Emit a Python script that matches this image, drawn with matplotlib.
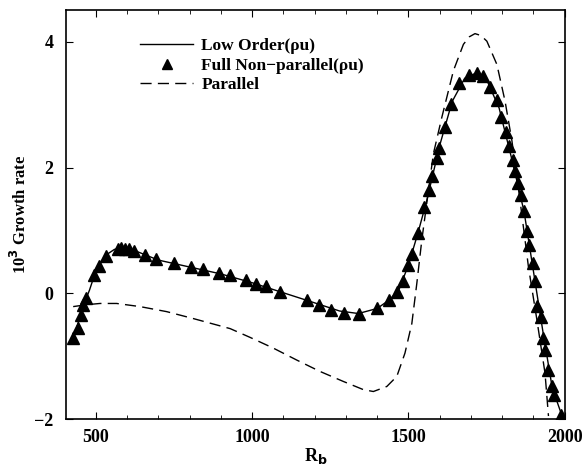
import matplotlib
matplotlib.use("Agg")
import numpy as np
from matplotlib import pyplot as plt
from matplotlib.ticker import MultipleLocator

# full non-parallel (rho u), triangles
full_x = [429, 442, 452, 460, 470, 495, 511, 532, 570, 582, 594, 606, 621,
          657, 692, 752, 805, 843, 894, 930, 980, 1013, 1045, 1089, 1176,
          1215, 1253, 1295, 1342, 1399, 1437, 1464, 1482, 1500, 1512, 1531,
          1550, 1567, 1574, 1590, 1598, 1617, 1637, 1663, 1695, 1720, 1740,
          1762, 1782, 1797, 1811, 1821, 1833, 1842, 1851, 1861, 1871, 1880,
          1887, 1897, 1904, 1910, 1923, 1932, 1936, 1948, 1959, 1966, 1987]
full_y = [-0.71, -0.55, -0.34, -0.19, -0.08, 0.29, 0.43, 0.59, 0.71, 0.72,
          0.71, 0.70, 0.68, 0.61, 0.54, 0.48, 0.42, 0.39, 0.33, 0.29, 0.21,
          0.15, 0.11, 0.03, -0.10, -0.19, -0.26, -0.31, -0.32, -0.24, -0.11,
          0.03, 0.19, 0.45, 0.63, 0.96, 1.38, 1.64, 1.87, 2.16, 2.31, 2.65,
          3.01, 3.34, 3.47, 3.51, 3.46, 3.28, 3.08, 2.81, 2.56, 2.34, 2.12,
          1.95, 1.75, 1.57, 1.31, 1.00, 0.77, 0.48, 0.19, -0.20, -0.38,
          -0.71, -0.90, -1.21, -1.48, -1.61, -1.93]

# low order (rho u), solid line
low_x = [430, 460, 480, 500, 530, 560, 590, 630, 700, 800, 900, 1000, 1100,
         1200, 1280, 1340, 1400, 1440, 1470, 1500, 1530, 1560, 1600, 1640,
         1680, 1715, 1750, 1790, 1830, 1870, 1900, 1930, 1960, 1995]
low_y = [-0.70, -0.20, 0.05, 0.35, 0.60, 0.70, 0.72, 0.67, 0.53, 0.42,
         0.31, 0.17, 0.01, -0.15, -0.28, -0.32, -0.24, -0.10, 0.06, 0.45,
         0.95, 1.50, 2.35, 3.05, 3.42, 3.50, 3.40, 2.95, 2.15, 1.30, 0.35,
         -0.60, -1.50, -2.0]

# parallel, dashed line
par_x = [428, 470, 514, 567, 642, 727, 812, 930, 994, 1068, 1143, 1217,
         1292, 1356, 1388, 1431, 1463, 1489, 1511, 1527, 1543, 1580, 1607,
         1644, 1676, 1695, 1713, 1732, 1751, 1783, 1809, 1831, 1857, 1884,
         1911, 1937, 1948]
par_y = [-0.21, -0.18, -0.16, -0.16, -0.21, -0.29, -0.40, -0.56, -0.70,
         -0.87, -1.06, -1.24, -1.40, -1.53, -1.56, -1.48, -1.32, -0.95,
         -0.48, 0.16, 0.85, 2.22, 2.80, 3.54, 3.96, 4.08, 4.13, 4.10, 4.01,
         3.64, 3.06, 2.43, 1.48, 0.42, -0.42, -1.27, -1.95]

plt.rcParams["font.family"] = ["Liberation Serif", "DejaVu Serif"]
plt.rcParams["font.weight"] = "bold"

fig = plt.figure(figsize=(5.84, 4.71), dpi=100)
ax = fig.add_axes([0.113, 0.110, 0.854, 0.868])

ax.plot(low_x, low_y, "-", color="black", lw=1.0, label="Low Order(\u03c1u)")
ax.plot(full_x, full_y, "^", color="black", ms=9, ls="none",
        label="Full Non\u2212parallel(\u03c1u)")
ax.plot(par_x, par_y, "--", color="black", lw=1.0, dashes=(8, 4.5),
        label="Parallel")

ax.set_xlim(405, 2000)
ax.set_ylim(-2, 4.5)
ax.xaxis.set_major_locator(MultipleLocator(500))
ax.xaxis.set_minor_locator(MultipleLocator(100))
ax.tick_params(which="both", direction="in", top=True, right=True)
ax.tick_params(which="major", length=5, labelsize=13)
ax.tick_params(axis="x", which="major", pad=7)
ax.tick_params(axis="y", which="major", pad=9)
ax.tick_params(which="minor", length=3)
ax.set_yticks([-2, 0, 2, 4])
ax.set_yticklabels(["\u22122", "0", "2", "4"])
for s in ax.spines.values():
    s.set_linewidth(1.2)

ax.set_xlabel("R$_\\mathbf{b}$", fontsize=13, fontweight="bold", labelpad=0)
ax.set_ylabel("10$^\\mathbf{3}$ Growth rate", fontsize=12, fontweight="bold",
              labelpad=3)

ax.legend(loc="upper left", bbox_to_anchor=(0.125, 0.962), frameon=False,
          fontsize=12.5, handlelength=3.0, handletextpad=0.5,
          labelspacing=0.2, borderpad=0.2, markerscale=0.8)

fig.savefig("out.png", dpi=100)
